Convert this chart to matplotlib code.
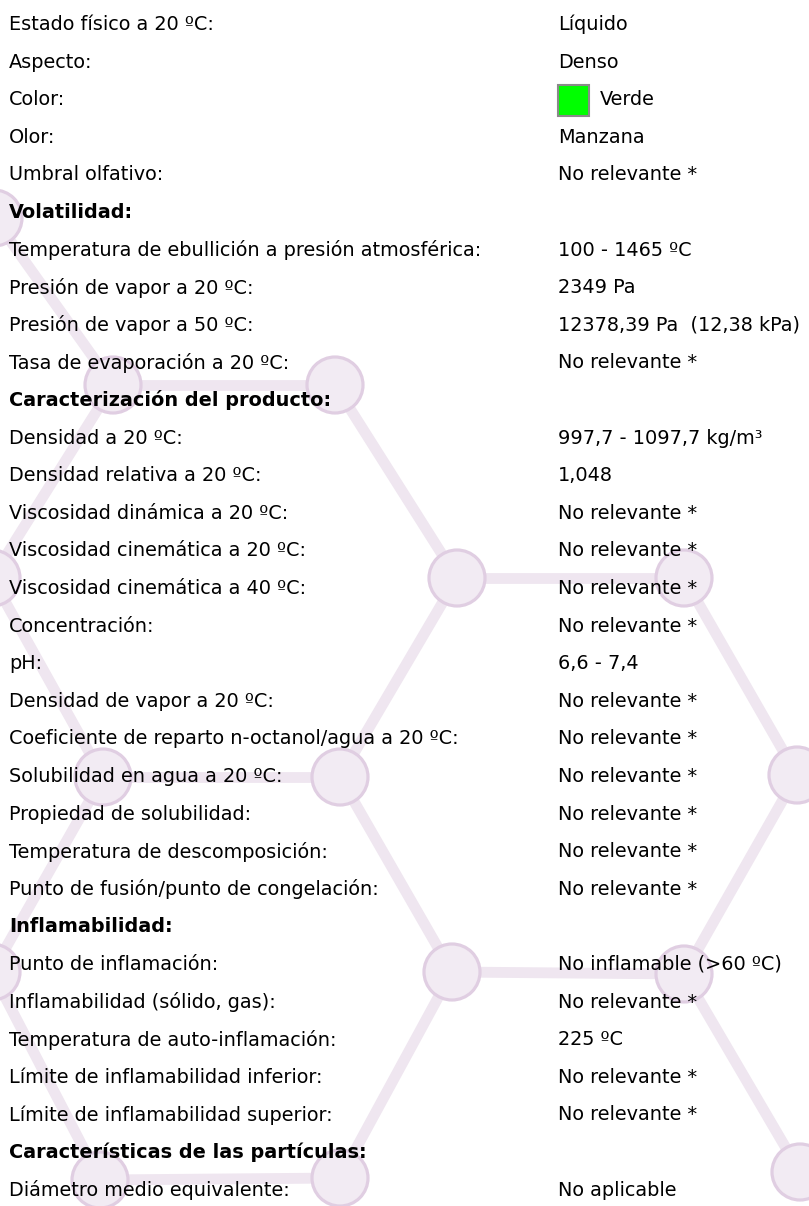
import matplotlib.pyplot as plt
from matplotlib.patches import Circle, Rectangle

# Rows of the property table: label, value, bold header?
labels = [
    "Estado físico a 20 ºC:", "Aspecto:", "Color:", "Olor:", "Umbral olfativo:",
    "Volatilidad:",
    "Temperatura de ebullición a presión atmosférica:", "Presión de vapor a 20 ºC:",
    "Presión de vapor a 50 ºC:", "Tasa de evaporación a 20 ºC:",
    "Caracterización del producto:",
    "Densidad a 20 ºC:", "Densidad relativa a 20 ºC:", "Viscosidad dinámica a 20 ºC:",
    "Viscosidad cinemática a 20 ºC:", "Viscosidad cinemática a 40 ºC:", "Concentración:",
    "pH:", "Densidad de vapor a 20 ºC:", "Coeficiente de reparto n-octanol/agua a 20 ºC:",
    "Solubilidad en agua a 20 ºC:", "Propiedad de solubilidad:",
    "Temperatura de descomposición:", "Punto de fusión/punto de congelación:",
    "Inflamabilidad:",
    "Punto de inflamación:", "Inflamabilidad (sólido, gas):",
    "Temperatura de auto-inflamación:", "Límite de inflamabilidad inferior:",
    "Límite de inflamabilidad superior:",
    "Características de las partículas:",
    "Diámetro medio equivalente:",
]
values = [
    "Líquido", "Denso", "Verde", "Manzana", "No relevante *",
    "",
    "100 - 1465 ºC", "2349 Pa", "12378,39 Pa  (12,38 kPa)", "No relevante *",
    "",
    "997,7 - 1097,7 kg/m³", "1,048", "No relevante *", "No relevante *",
    "No relevante *", "No relevante *", "6,6 - 7,4", "No relevante *",
    "No relevante *", "No relevante *", "No relevante *", "No relevante *",
    "No relevante *",
    "",
    "No inflamable (>60 ºC)", "No relevante *", "225 ºC", "No relevante *",
    "No relevante *",
    "",
    "No aplicable",
]
headers = {5, 10, 24, 30}
color_row = 2
swatch_color = "#00ff00"

# Background molecule: node positions (pixels) and bonds between them
node_x = [-6, 113, 335, -8, 457, 684, 103, 340, 797, -8, 452, 684, 100, 340, 800]
node_y = [218, 385, 385, 578, 578, 578, 777, 777, 775, 972, 972, 974, 1180, 1178, 1172]
bonds = [(0, 1), (1, 2), (1, 3), (2, 4), (4, 5), (4, 7), (5, 8), (3, 6), (6, 7),
         (6, 9), (7, 10), (10, 11), (8, 11), (9, 12), (12, 13), (13, 10), (11, 14)]

W, H = 809, 1206
fig = plt.figure(figsize=(W / 100, H / 100), dpi=100)
ax = fig.add_axes([0, 0, 1, 1])
ax.set_xlim(0, W)
ax.set_ylim(H, 0)
ax.axis('off')

# Draw bonds, then atoms
for a, b in bonds:
    ax.plot([node_x[a], node_x[b]], [node_y[a], node_y[b]], color="#efe6f0",
            lw=7.8, solid_capstyle='butt', zorder=1)
for x, y in zip(node_x, node_y):
    ax.add_patch(Circle((x, y), 28, facecolor="#f2ebf3", edgecolor="#e0cee2",
                        lw=2.3, zorder=2))

# Table text
y0, dy = 24.5, 37.6
label_x, value_x = 9, 558
fs = 13.9
for i, (lab, val) in enumerate(zip(labels, values)):
    y = y0 + i * dy
    ax.text(label_x, y, lab, fontsize=fs, va='center', ha='left',
            fontweight='bold' if i in headers else 'normal', color="#000000",
            family='DejaVu Sans', zorder=3)
    if not val:
        continue
    vx = value_x
    if i == color_row:
        ax.add_patch(Rectangle((value_x, y - 15), 31, 31, facecolor=swatch_color,
                               edgecolor="#8a8a8a", lw=1.5, zorder=3))
        vx = value_x + 42
    ax.text(vx, y, val, fontsize=fs, va='center', ha='left', color="#000000",
            family='DejaVu Sans', zorder=3)

fig.savefig("out.png", dpi=100)
